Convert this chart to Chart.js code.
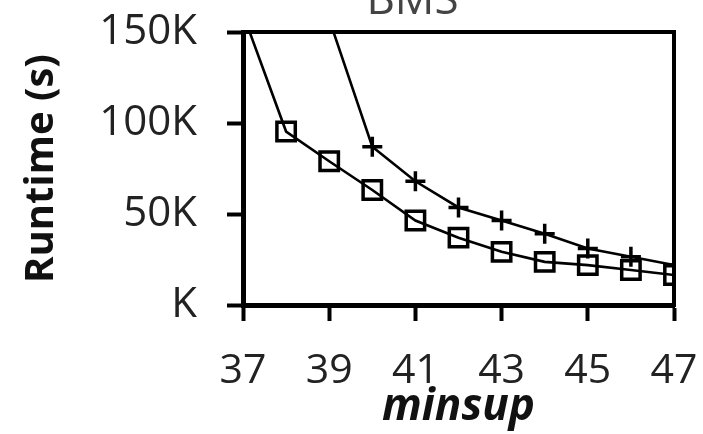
<!DOCTYPE html>
<html>
<head>
<meta charset="utf-8">
<script src="https://cdn.jsdelivr.net/npm/chart.js@4"></script>
<style>
  html, body { margin: 0; padding: 0; background: #fff; }
</style>
</head>
<body>
<canvas id="runtimeChart" width="703" height="434"></canvas>
<script>
const minsup = [37, 38, 39, 40, 41, 42, 43, 44, 45, 46, 47];
const plusRuntime = [null, null, 157000, 87000, 68000, 53600, 46400, 39100, 31000, 26500, 22000];
const squareRuntime = [160000, 95300, 79000, 63200, 46400, 37000, 29200, 23700, 21900, 19200, 16500];
const xTicks = [37, 39, 41, 43, 45, 47];
const yTickLabels = ['K', '50K', '100K', '150K'];
const chartTitle = 'BMS';

const toPoints = (vals) => minsup.map((x, i) => ({ x: x, y: vals[i] }));

// box around the plot area, plus the title that is cut off at the top
const frame = {
  id: 'frame',
  afterDatasetsDraw(chart) {
    const a = chart.chartArea;
    const c = chart.ctx;
    c.save();
    c.strokeStyle = '#000';
    c.lineWidth = 4;
    c.strokeRect(a.left, a.top, a.right - a.left, a.bottom - a.top);
    c.fillStyle = '#444';
    c.font = '44px "Open Sans"';
    c.textAlign = 'center';
    c.textBaseline = 'alphabetic';
    c.fillText(chartTitle, (a.left + a.right) / 2 - 46, 14);
    c.restore();
  }
};

const ctx = document.getElementById('runtimeChart').getContext('2d');
new Chart(ctx, {
  type: 'line',
  data: {
    datasets: [{
      label: 'plus',
      data: toPoints(plusRuntime),
      borderColor: '#000',
      borderWidth: 2.6,
      pointStyle: 'cross',
      pointRadius: 10,
      pointBorderWidth: 3.5,
      pointBorderColor: '#000'
    }, {
      label: 'square',
      data: toPoints(squareRuntime),
      borderColor: '#000',
      borderWidth: 2.6,
      pointStyle: 'rect',
      pointRadius: 13,
      pointBorderWidth: 3.5,
      pointBorderColor: '#000',
      pointBackgroundColor: 'rgba(255,255,255,0)'
    }]
  },
  options: {
    responsive: false,
    animation: false,
    layout: { padding: { left: 0, right: 29, top: 32, bottom: 0 } },
    plugins: {
      legend: { display: false },
      tooltip: { enabled: false }
    },
    scales: {
      x: {
        type: 'linear',
        min: 37,
        max: 47,
        afterBuildTicks: (axis) => { axis.ticks = xTicks.map(v => ({ value: v })); },
        afterFit: (axis) => { axis.height = 129; axis.paddingLeft = 0; axis.paddingRight = 0; },
        ticks: {
          color: '#222',
          font: { family: 'Open Sans', size: 41 },
          padding: 26
        },
        grid: { drawOnChartArea: false, drawTicks: true, tickLength: 16, tickWidth: 4, tickColor: '#000' },
        border: { display: true, width: 5, color: '#000' },
        title: {
          display: true,
          text: 'minsup',
          color: '#111',
          font: { family: 'Open Sans', size: 44, weight: 'bold', style: 'italic' },
          padding: { top: 0, bottom: 0 }
        }
      },
      y: {
        min: 0,
        max: 150000,
        ticks: {
          stepSize: 50000,
          color: '#222',
          font: { family: 'Open Sans', size: 42 },
          padding: 30,
          callback: (v, i) => yTickLabels[i]
        },
        afterFit: (axis) => { axis.width = 243; axis.paddingTop = 0; axis.paddingBottom = 0; },
        grid: { drawOnChartArea: false, drawTicks: true, tickLength: 16, tickWidth: 4, tickColor: '#000' },
        border: { display: true, width: 5, color: '#000' },
        title: {
          display: true,
          text: 'Runtime (s)',
          color: '#111',
          font: { family: 'Open Sans', size: 40, weight: 'bold' },
          padding: { top: 18, bottom: 0 }
        }
      }
    }
  },
  plugins: [frame]
});
</script>
</body>
</html>
